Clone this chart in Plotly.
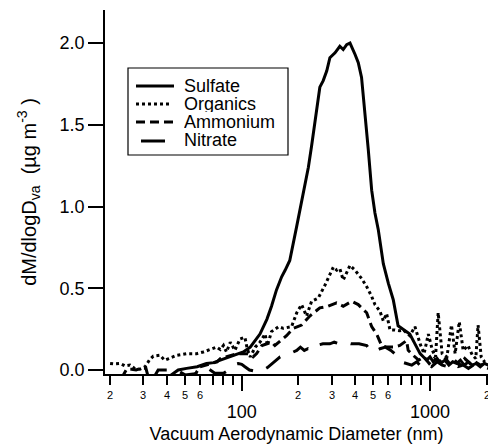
import numpy as np
import plotly.graph_objects as go

# ---------------- data ----------------
sulfate_d = [40, 46, 51, 58, 65, 71, 77, 87, 95, 102, 111, 118, 125, 136, 144, 153, 163, 170, 180, 196,
             213, 226, 235, 245, 260, 271, 283, 294, 313, 332, 346, 361, 376, 400, 416, 433, 452, 470, 490, 510,
             531, 565, 601, 638, 677, 721, 781, 832, 886, 960, 1000, 1040, 1090, 1140, 1200, 1260, 1320, 1390,
             1450, 1520, 1600, 1680, 1760, 1850, 1940, 2040]
sulfate_v = [-0.05, 0.0, 0.01, 0.02, 0.04, 0.045, 0.06, 0.08, 0.095, 0.11, 0.14, 0.18, 0.22, 0.31, 0.39, 0.49,
             0.57, 0.61, 0.67, 0.88, 1.08, 1.24, 1.37, 1.51, 1.73, 1.77, 1.83, 1.91, 1.94, 1.98, 1.96, 1.99, 2.00,
             1.93, 1.88, 1.79, 1.57, 1.35, 1.10, 0.96, 0.86, 0.65, 0.53, 0.43, 0.27, 0.25, 0.22, 0.16, 0.10, 0.06,
             0.08, 0.05, 0.07, 0.04, 0.06, 0.03, 0.05, 0.04, 0.06, 0.03, 0.05, 0.03, 0.04, 0.02, 0.04, 0.03]

organics_d = [20, 21, 22.6, 24, 25.5, 27, 28.8, 30.7, 32.3, 33.9, 36.8, 39, 41, 45.2, 51, 57.7, 62.5, 68,
              73.7, 77, 80, 83, 87, 92, 98, 104, 107, 111, 118, 125, 133, 137, 144, 157, 166, 184, 196, 208, 221,
              235, 255, 277, 294, 307, 320, 332, 346, 361, 376, 400, 433, 461, 490, 510, 542, 565, 588, 613, 651,
              690, 721, 781, 832, 886, 930, 980, 1030, 1070, 1105, 1160, 1230, 1300, 1360, 1430, 1500, 1590,
              1680, 1750, 1800, 1870, 1950, 2040]
organics_v = [0.04, 0.037, 0.04, 0.025, 0.03, 0.01, 0.005, 0.02, 0.06, 0.085, 0.09, 0.06, 0.07, 0.09, 0.10,
              0.10, 0.11, 0.125, 0.14, 0.125, 0.15, 0.11, 0.17, 0.12, 0.19, 0.20, 0.13, 0.08, 0.14, 0.17, 0.22,
              0.15, 0.235, 0.265, 0.255, 0.265, 0.35, 0.40, 0.33, 0.42, 0.44, 0.52, 0.59, 0.63, 0.61, 0.62, 0.55,
              0.60, 0.64, 0.61, 0.56, 0.51, 0.45, 0.40, 0.36, 0.30, 0.345, 0.245, 0.245, 0.24, 0.245, 0.21, 0.265,
              0.16, 0.10, 0.22, 0.12, 0.08, 0.35, 0.10, 0.08, 0.275, 0.10, 0.295, 0.12, 0.15, 0.09, 0.07, 0.275,
              0.08, 0.05, 0.05]

ammonium_d = [23, 24.5, 26, 27.5, 29, 31, 32, 36, 45, 55, 60, 65, 70, 74, 77, 83, 90, 95, 102, 108, 115, 120,
              128, 136, 144, 150, 160, 173, 188, 208, 230, 260, 288, 319, 346, 384, 416, 461, 490, 521, 553, 588,
              638, 692, 751, 766, 814, 870, 930, 990, 1050, 1120, 1190, 1270, 1350, 1440, 1530, 1630, 1740, 1850,
              1960, 2040]
ammonium_v = [-0.05, 0.005, 0.005, 0.0, 0.01, 0.01, -0.05, -0.05, -0.05, -0.05, 0.02, 0.03, 0.04, 0.05, 0.07,
              0.08, 0.09, 0.10, 0.10, 0.10, 0.08, 0.10, 0.15, 0.16, 0.17, 0.15, 0.18, 0.21, 0.255, 0.275, 0.33,
              0.38, 0.39, 0.41, 0.39, 0.42, 0.40, 0.35, 0.265, 0.22, 0.15, 0.14, 0.14, 0.15, 0.18, 0.12, 0.09,
              0.06, 0.08, 0.04, 0.07, 0.05, 0.08, 0.04, 0.06, 0.03, 0.07, 0.04, 0.05, 0.03, 0.04, 0.03]

nitrate_d = [34, 36, 40, 45, 50, 60, 66, 72, 80, 85, 88, 92, 96, 100, 104, 110, 120, 130, 137, 145, 152, 160,
             170, 180, 196, 205, 215, 225, 235, 250, 270, 294, 310, 330, 354, 380, 420, 461, 480, 500, 520, 542,
             580, 620, 664, 700, 750, 800, 850, 900, 960, 1020, 1090, 1160, 1240, 1320, 1410, 1500, 1600, 1700,
             1810, 1920, 2040]
nitrate_v = [-0.05, 0.0, 0.0, 0.0, -0.03, -0.02, 0.01, -0.02, -0.02, 0.0, 0.02, 0.035, 0.04, 0.035, 0.02, 0.0,
             -0.01, 0.0, 0.015, 0.04, 0.06, 0.08, 0.09, 0.10, 0.12, 0.14, 0.12, 0.13, 0.12, 0.15, 0.16, 0.16,
             0.17, 0.16, 0.17, 0.16, 0.16, 0.15, 0.12, 0.11, 0.12, 0.13, 0.14, 0.12, 0.09, 0.05, 0.04, 0.03, 0.05,
             0.02, 0.04, 0.02, 0.05, 0.03, 0.02, 0.04, 0.02, 0.03, 0.01, 0.03, 0.02, 0.02, 0.01]

series_names = ["Sulfate", "Organics", "Ammonium", "Nitrate"]

# axis ticks
y_ticks = [0.0, 0.5, 1.0, 1.5, 2.0]
x_major = [100, 1000]
x_major_text = ["100", "1000"]
x_minor = [20, 30, 40, 50, 60, 70, 80, 90, 200, 300, 400, 500, 600, 700, 800, 900, 2000]
x_minor_labeled = [20, 30, 40, 50, 60, 200, 300, 400, 500, 600, 2000]
x_minor_text = ["2", "3", "4", "5", "6", "2", "3", "4", "5", "6", "2"]

# ---------------- styles ----------------
FONT = "Liberation Sans, Arial, Helvetica, sans-serif"
W, H = 488, 448
ML, MR, MT, MB = 105, 0, 10, 74
styles = {
    "Sulfate": dict(color="black", width=3, dash="solid"),
    "Organics": dict(color="black", width=3, dash="3px,3px"),
    "Ammonium": dict(color="black", width=3, dash="9px,5px"),
    "Nitrate": dict(color="black", width=3, dash="18px,14px"),
}
data = {
    "Sulfate": (sulfate_d, sulfate_v),
    "Organics": (organics_d, organics_v),
    "Ammonium": (ammonium_d, ammonium_v),
    "Nitrate": (nitrate_d, nitrate_v),
}

fig = go.Figure()
for name in ["Organics", "Ammonium", "Nitrate", "Sulfate"]:
    d, v = data[name]
    fig.add_trace(go.Scatter(x=d, y=v, mode="lines", name=name, line=styles[name],
                             showlegend=False, hoverinfo="skip"))

fig.update_layout(
    width=W, height=H, template="none",
    margin=dict(l=ML, r=MR, t=MT, b=MB, pad=0),
    paper_bgcolor="white", plot_bgcolor="white",
    font=dict(family=FONT, color="black", size=18),
    xaxis=dict(
        type="log", range=[1.274, 3.308], automargin=False,
        tickmode="array", tickvals=x_major, ticktext=x_major_text,
        ticks="outside", ticklen=15, tickwidth=1.5, tickcolor="black",
        tickfont=dict(size=18, family=FONT), ticklabelstandoff=6,
        minor=dict(tickmode="array", tickvals=x_minor, ticks="outside", ticklen=9,
                   tickwidth=1.5, tickcolor="black", showgrid=False),
        showline=True, linewidth=1.5, linecolor="black", mirror=False,
        showgrid=False, zeroline=False,
        title=dict(text="Vacuum Aerodynamic Diameter (nm)", font=dict(size=18, family=FONT), standoff=6),
    ),
    yaxis=dict(
        range=[-0.0245, 2.202], automargin=False,
        tickmode="array", tickvals=y_ticks, tickformat=".1f",
        ticks="outside", ticklen=15, tickwidth=1.5, tickcolor="black",
        tickfont=dict(size=18, family=FONT),
        showline=True, linewidth=1.5, linecolor="black",
        showgrid=False, zeroline=False,
        title=dict(text="dM/dlogD<sub>va</sub>  (µg m<sup>-3</sup> )", font=dict(size=20, family=FONT), standoff=18),
    ),
)

# small digit labels under the minor ticks
for val, txt in zip(x_minor_labeled, x_minor_text):
    fig.add_annotation(x=np.log10(val), y=0, xref="x", yref="paper", text=txt, showarrow=False,
                       yanchor="middle", xanchor="center", yshift=-20.5,
                       font=dict(size=11, family=FONT, color="black"))

# manual legend (paper coordinates)
pw = W - ML - MR
ph = H - MT - MB
def px2x(p):
    return (p - ML) / pw
def py2y(p):
    return (H - MB - p) / ph

fig.add_shape(type="rect", xref="paper", yref="paper", x0=px2x(128), x1=px2x(288),
              y0=py2y(155), y1=py2y(68), line=dict(color="black", width=1.2), fillcolor="white", layer="above")
rows_y = [86, 104, 122, 141]
sample_x = {"Sulfate": (136, 174), "Organics": (136, 172), "Ammonium": (136, 173), "Nitrate": (141, 165)}
for name, ry in zip(series_names, rows_y):
    x0, x1 = sample_x[name]
    st = dict(styles[name])
    if name == "Nitrate":
        st["dash"] = "solid"
    fig.add_shape(type="line", xref="paper", yref="paper", x0=px2x(x0), x1=px2x(x1),
                  y0=py2y(ry), y1=py2y(ry), line=st, layer="above")
    fig.add_annotation(x=px2x(182), y=py2y(ry - 1), xref="paper", yref="paper", text=name,
                       showarrow=False, xanchor="left", yanchor="middle", height=17,
                       font=dict(size=18, family=FONT, color="black"))

fig.write_html("out.html")
